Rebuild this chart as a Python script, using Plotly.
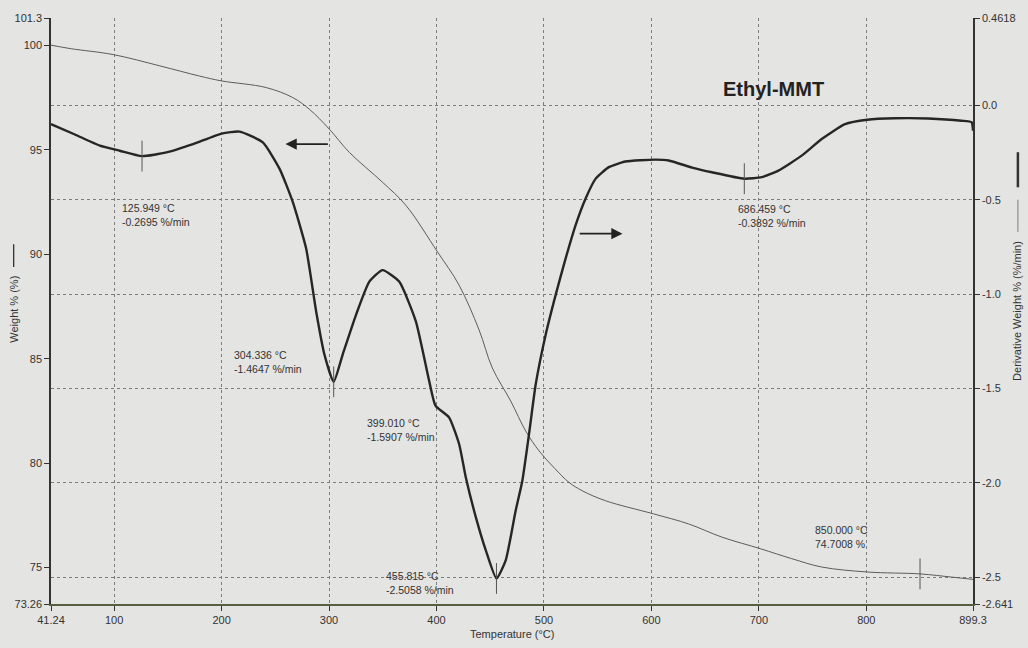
import plotly.graph_objects as go

# ---- data ----
weight_T = [41.24, 60, 99.1, 142.5, 179.6, 200, 241.6, 266.3, 281.8, 300.3, 318.9, 349.8,
            371.6, 400.9, 421, 439.6, 452, 469.1, 483, 495.4, 510, 523.3, 535.6, 557.4, 602.2,
            634.7, 665.6, 701.8, 730.6, 758.5, 801.2, 850, 879, 899.3]
weight_pct = [100.0, 99.83, 99.55, 99.01, 98.52, 98.29, 97.97, 97.49, 96.93, 95.98, 94.87, 93.44,
              92.33, 90.11, 88.52, 86.38, 84.55, 82.97, 81.54, 80.59, 79.75, 79.08, 78.68, 78.2, 77.57,
              77.09, 76.46, 75.9, 75.43, 75.03, 74.79, 74.70, 74.55, 74.44]

deriv_T = [41.24, 63.5, 86.7, 105.3, 125.9, 148.7, 173.4, 200, 216.8, 238.4, 254, 266.3,
           278.7, 288, 295.7, 304.3, 312.7, 325.1, 337.5, 349.8, 365.3, 380.8, 393.2, 399.0,
           411.8, 421.1, 427.3, 436.6, 445.9, 455.8, 464.4, 473.7, 479.9, 486.1, 492.3, 501.6,
           510.9, 520.2, 529.4, 538.7, 548, 560.4, 575.9, 603.7, 616.1, 637.8, 656.3, 686.5,
           702.7, 718.2, 739.9, 758.5, 780.2, 800.9, 826.6, 857.5, 888.5, 898, 899.3]
deriv_val = [-0.10, -0.155, -0.214, -0.241, -0.2695, -0.25, -0.206, -0.15, -0.140, -0.197, -0.337, -0.513,
             -0.759, -1.092, -1.320, -1.4647, -1.32, -1.11, -0.934, -0.873, -0.934, -1.145, -1.461, -1.5907,
             -1.654, -1.795, -1.971, -2.181, -2.357, -2.5058, -2.41, -2.146, -1.988, -1.742, -1.479, -1.215,
             -1.004, -0.811, -0.636, -0.495, -0.390, -0.328, -0.298, -0.288, -0.293, -0.33, -0.355, -0.3892,
             -0.381, -0.346, -0.267, -0.179, -0.100, -0.077, -0.069, -0.070, -0.082, -0.09, -0.135]

# labelled peaks on the derivative curve
peak_T = [125.949, 304.336, 399.010, 455.815, 686.459]
peak_D = [-0.2695, -1.4647, -1.5907, -2.5058, -0.3892]
peak_marked = [True, True, False, True, True]
# labelled point on the weight curve
wpoint_T = [850.000]
wpoint_W = [74.7008]

x_ticks = [41.24, 100, 200, 300, 400, 500, 600, 700, 800, 899.3]
x_ticktext = ["41.24", "100", "200", "300", "400", "500", "600", "700", "800", "899.3"]
y_ticks = [73.26, 75, 80, 85, 90, 95, 100, 101.3]
y_ticktext = ["73.26", "75", "80", "85", "90", "95", "100", "101.3"]
y2_ticks = [-2.641, -2.5, -2.0, -1.5, -1.0, -0.5, 0.0, 0.4618]
y2_ticktext = ["-2.641", "-2.5", "-2.0", "-1.5", "-1.0", "-0.5", "0.0", "0.4618"]

BG = "#e4e4e2"
FONT = "Liberation Sans, Arial, sans-serif"
TXT = "#333333"
GRID = "#7c7c7c"

fig = go.Figure()
fig.add_trace(go.Scatter(x=weight_T, y=weight_pct, mode="lines", yaxis="y",
                         line=dict(color="#5c5c60", width=1, shape="spline", smoothing=1.0),
                         hoverinfo="skip", showlegend=False))
fig.add_trace(go.Scatter(x=deriv_T, y=deriv_val, mode="lines", yaxis="y2",
                         line=dict(color="#262626", width=2.4, shape="spline", smoothing=0.5),
                         hoverinfo="skip", showlegend=False))
# cursor ticks at labelled points
mk_T = [t for t, m in zip(peak_T, peak_marked) if m]
mk_D = [d for d, m in zip(peak_D, peak_marked) if m]
fig.add_trace(go.Scatter(x=mk_T, y=mk_D, mode="markers", yaxis="y2",
                         marker=dict(symbol="line-ns", size=22, line=dict(width=1, color="#555")),
                         hoverinfo="skip", showlegend=False))
fig.add_trace(go.Scatter(x=wpoint_T, y=wpoint_W, mode="markers", yaxis="y",
                         marker=dict(symbol="line-ns", size=22, line=dict(width=1, color="#555")),
                         hoverinfo="skip", showlegend=False))

# peak labels (offsets in pixels from the labelled point)
offsets = [(-22, -59), (-102, 20), (-70, -24), (-112, -5), (-8, -37)]
annotations = []
for t, d, (dx, dy) in zip(peak_T, peak_D, offsets):
    annotations.append(dict(x=t, y=d, xref="x", yref="y2", showarrow=False,
                            text=f"{t:.3f} °C<br>{d:.4f} %/min", align="left",
                            xanchor="left", yanchor="middle", xshift=dx, yshift=dy,
                            font=dict(family=FONT, size=10.5, color=TXT)))
annotations.append(dict(x=wpoint_T[0], y=wpoint_W[0], xref="x", yref="y", showarrow=False,
                        text=f"{wpoint_T[0]:.3f} °C<br>{wpoint_W[0]:.4f} %", align="left",
                        xanchor="left", yanchor="middle", xshift=-107, yshift=37,
                        font=dict(family=FONT, size=10.5, color=TXT)))
# direction arrows
annotations.append(dict(x=259.5, y=-0.206, ax=300.3, ay=-0.206, xref="x", yref="y2",
                        axref="x", ayref="y2", showarrow=True, arrowhead=2, arrowsize=1.4,
                        arrowwidth=1.6, arrowcolor="#222", text=""))
annotations.append(dict(x=573.1, y=-0.680, ax=531.9, ay=-0.680, xref="x", yref="y2",
                        axref="x", ayref="y2", showarrow=True, arrowhead=2, arrowsize=1.4,
                        arrowwidth=1.6, arrowcolor="#222", text=""))
# title and axis titles
annotations.append(dict(x=0.7835, y=0.8795, xref="paper", yref="paper", showarrow=False,
                        xanchor="center", yanchor="middle",
                        text="<b>Ethyl-MMT</b>", font=dict(family=FONT, size=20, color="#222")))
annotations.append(dict(x=0.5, y=-0.051, xref="paper", yref="paper", showarrow=False,
                        xanchor="center", yanchor="middle",
                        text="Temperature (°C)", font=dict(family=FONT, size=11, color=TXT)))
annotations.append(dict(x=-0.041, y=0.5025, xref="paper", yref="paper", showarrow=False,
                        xanchor="center", yanchor="middle",
                        textangle=-90, text="Weight % (%)", font=dict(family=FONT, size=11, color=TXT)))
annotations.append(dict(x=1.0476, y=0.50, xref="paper", yref="paper", showarrow=False,
                        xanchor="center", yanchor="middle",
                        textangle=-90, text="Derivative Weight % (%/min)",
                        font=dict(family=FONT, size=11, color=TXT)))

shapes = [
    # legend line beside left axis title
    dict(type="line", xref="paper", yref="paper", x0=-0.0405, x1=-0.0405, y0=0.575, y1=0.614,
         line=dict(color="#333", width=1.3)),
    # legend marks beside right axis title
    dict(type="line", xref="paper", yref="paper", x0=1.0487, x1=1.0487, y0=0.711, y1=0.771,
         line=dict(color="#333", width=2.5)),
    dict(type="line", xref="paper", yref="paper", x0=1.0487, x1=1.0487, y0=0.635, y1=0.69,
         line=dict(color="#666", width=0.8)),
]

fig.update_layout(
    width=1028, height=648,
    margin=dict(l=51, r=53, t=15, b=44),
    paper_bgcolor=BG, plot_bgcolor=BG,
    font=dict(family=FONT, size=11, color=TXT),
    showlegend=False,
    annotations=annotations, shapes=shapes,
    xaxis=dict(range=[41.24, 899.3], tickvals=x_ticks, ticktext=x_ticktext,
               showgrid=True, gridcolor=GRID, griddash="dot", gridwidth=1,
               showline=True, linecolor="#56603f", linewidth=1.5,
               ticks="outside", ticklen=5, tickcolor="#333", zeroline=False,
               tickfont=dict(family=FONT, size=11, color=TXT)),
    yaxis=dict(range=[73.26, 101.3], tickvals=y_ticks, ticktext=y_ticktext,
               showgrid=False, showline=True, linecolor="#333", linewidth=1.5,
               ticks="outside", ticklen=5, tickcolor="#333", zeroline=False,
               tickfont=dict(family=FONT, size=11, color=TXT)),
    yaxis2=dict(range=[-2.641, 0.4618], tickvals=y2_ticks, ticktext=y2_ticktext,
                overlaying="y", side="right",
                showgrid=True, gridcolor=GRID, griddash="dot", gridwidth=1,
                showline=True, linecolor="#333", linewidth=1.5,
                ticks="outside", ticklen=5, tickcolor="#333", zeroline=False,
                tickfont=dict(family=FONT, size=11, color=TXT)),
)

fig.write_html("out.html")
